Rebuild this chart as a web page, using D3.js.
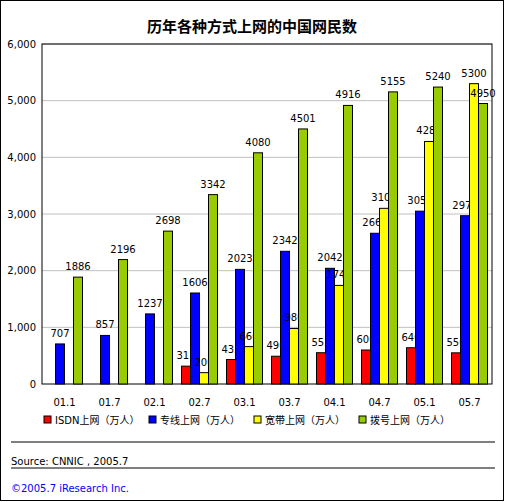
<!DOCTYPE html><html><head><meta charset="utf-8"><script src="https://cdn.jsdelivr.net/npm/d3@7"></script>
<style>body{margin:0;background:#fff}text{font-family:Verdana,"DejaVu Sans","Noto Sans CJK SC",sans-serif}</style></head><body>
<svg id="c" width="505" height="502"></svg>
<script>
const categories=["01.1","01.7","02.1","02.7","03.1","03.7","04.1","04.7","05.1","05.7"];
const isdn=[null,null,null,315,432,490,552,600,640,550];
const dedicated=[707,857,1237,1606,2023,2342,2042,2660,3050,2970];
const broadband=[null,null,null,200,660,980,1740,3100,4280,5300];
const dialup=[1886,2196,2698,3342,4080,4501,4916,5155,5240,4950];
const seriesNames=["ISDN上网（万人）","专线上网（万人）","宽带上网（万人）","拨号上网（万人）"];
const colors=["#ff0000","#0000ff","#ffff00","#99cc00"];
const yTicks=[0,1000,2000,3000,4000,5000,6000];
const svg=d3.select("#c");
svg.append("rect").attr("x",0.5).attr("y",0.5).attr("width",503).attr("height",500).attr("fill","#fff").attr("stroke","#000");
svg.append("text").attr("x",252).attr("y",32).attr("text-anchor","middle").attr("font-size",15).attr("font-weight","bold").attr("font-family","Noto Sans CJK SC").text("历年各种方式上网的中国网民数");
const x=d3.scaleBand().domain(categories).range([42,492]).paddingInner(0.2).paddingOuter(0.1);
const y=d3.scaleLinear().domain([0,6000]).range([384,44]);
const g=svg.append("g");
yTicks.forEach(t=>{if(t>0)g.append("line").attr("x1",42).attr("x2",492).attr("y1",y(t)).attr("y2",y(t)).attr("stroke","#c0c0c0");});
g.append("rect").attr("x",42).attr("y",44).attr("width",450).attr("height",340).attr("fill","none").attr("stroke","#000");
g.append("g").attr("transform","translate(42,0)").call(d3.axisLeft(y).tickValues(yTicks).tickSize(0).tickPadding(6)).call(a=>{a.select(".domain").remove();a.selectAll("text").attr("font-size",10).attr("font-family","Verdana,DejaVu Sans");});
g.append("g").attr("transform","translate(0,384)").call(d3.axisBottom(x).tickSize(0).tickPadding(15)).call(a=>{a.select(".domain").remove();a.selectAll("text").attr("font-size",10).attr("font-family","Verdana,DejaVu Sans");});
const sub=d3.scaleBand().domain([0,1,2,3]).range([0,x.bandwidth()]);
[isdn,dedicated,broadband,dialup].forEach((s,si)=>{
 categories.forEach((c,i)=>{const v=s[i];if(v==null)return;
  g.append("rect").attr("x",x(c)+sub(si)).attr("y",y(v)).attr("width",sub.bandwidth()).attr("height",384-y(v)).attr("fill",colors[si]).attr("stroke","#000").attr("stroke-width",1);
  g.append("text").attr("x",x(c)+sub(si)+sub.bandwidth()/2).attr("y",y(v)-7).attr("text-anchor","middle").attr("font-size",10).attr("font-family","Verdana,DejaVu Sans").text(v);
 });
});
const lg=svg.append("g").attr("transform","translate(44,416)");
const lx=[0,105,210,315];
seriesNames.forEach((n,i)=>{lg.append("rect").attr("x",lx[i]).attr("y",0).attr("width",7).attr("height",7).attr("fill",colors[i]).attr("stroke","#000");
 lg.append("text").attr("x",lx[i]+11).attr("y",8).attr("font-size",10).attr("font-family","Verdana,Noto Sans CJK SC").text(n);});
svg.append("line").attr("x1",11).attr("x2",495).attr("y1",442).attr("y2",442).attr("stroke","#000");
svg.append("line").attr("x1",11).attr("x2",495).attr("y1",468).attr("y2",468).attr("stroke","#000");
svg.append("text").attr("x",11).attr("y",465).attr("font-size",10).text("Source:  CNNIC ,  2005.7");
svg.append("text").attr("x",11).attr("y",492).attr("font-size",10).attr("fill","#0000ff").text("©2005.7  iResearch Inc.");
</script></body></html>
